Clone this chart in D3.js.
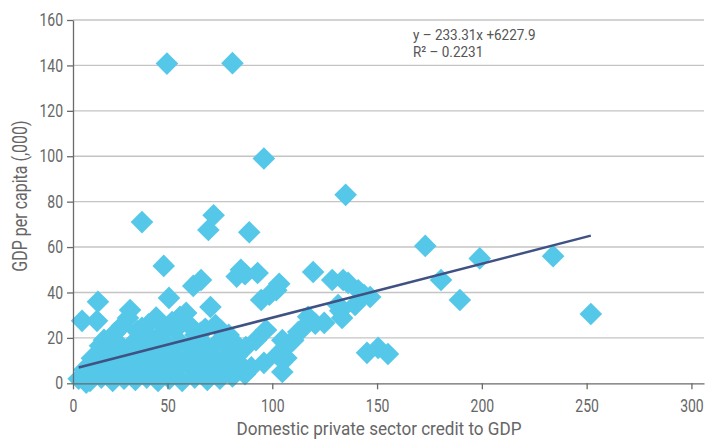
<!DOCTYPE html>
<html>
<head>
<meta charset="utf-8">
<script src="https://cdn.jsdelivr.net/npm/d3@7"></script>
<style>
  body { margin: 0; background: #fff; }
  svg text { font-family: "Roboto", "Liberation Sans", sans-serif; }
</style>
</head>
<body>
<svg width="706" height="439"></svg>
<script>
// credit to GDP (%) / GDP per capita (thousands)
const creditToGdp = [
  49.7, 81, 96, 135, 36.5, 72, 69.5, 89, 173, 199, 234, 180.5, 189.5, 252,
  48, 50.7, 66, 62.3, 70.5, 85, 87, 83, 93, 98.6, 94.7, 101.9, 103.3,
  119.5, 128.6, 133.8, 136.2, 141, 143.8, 146.7, 139.5, 132.4, 131.4, 133.3,
  117.1, 124.8, 120.5, 113.8, 112.4, 110, 107.6, 104.8, 102.4, 104.8,
  145.2, 150.5, 155.2, 106.7, 13.2, 4.8, 12.7, 16.4, 14.3, 30.2, 29.1, 25.9,
  36.5, 40.7, 49.2, 52.2, 56, 58.9, 53.6, 63.3, 65.7, 72.9, 75.3, 79.2, 83,
  87.4, 92.2, 97,
  3, 7, 9, 15, 21, 27, 33, 39, 45, 51, 57, 63, 69, 75, 81, 87,
  6, 12, 18, 24, 30, 36, 42, 48, 54, 60, 66, 72, 78, 84, 90, 96,
  10, 17, 23, 29, 35, 41, 47, 53, 59, 65, 71, 77, 83,
  20, 26, 32, 38, 44, 50, 56, 62, 68, 74, 80,
  22, 34, 46, 60, 68, 44, 40
];
const gdpPerCapita = [
  140.8, 141, 99, 83, 71, 74, 67.5, 66.5, 60.5, 55, 56, 45.5, 36.7, 30.5,
  51.7, 37.6, 45.5, 42.9, 33.6, 50, 48, 47, 48.6, 39, 36.7, 41, 43.8,
  49, 45.5, 45.5, 44.2, 41, 38.9, 38, 34.5, 31.9, 34.5, 28.8,
  29.3, 26.6, 26.2, 23.5, 22.6, 19, 16.9, 19, 12.5, 5,
  13.4, 15.6, 12.9, 11.1, 35.9, 27.5, 27.5, 19.1, 16.5, 32.3, 28.8, 25.3,
  24.4, 20, 24.4, 27, 29.3, 31, 23.5, 21.3, 22.2, 25.7, 23.5, 21.3, 16.9,
  16, 19, 23.5,
  2, 0.3, 1, 2.5, 1, 2, 1.5, 2.5, 1, 2, 1, 2.5, 1.5, 2, 3, 4,
  6, 7, 8, 6.5, 7.5, 6, 8, 7, 6.5, 8, 7, 6, 8, 9, 7, 9,
  11, 12, 13, 11.5, 12.5, 11, 13, 12, 11, 13, 12, 11, 12,
  17, 16, 18, 17.5, 16, 17, 18, 16.5, 17, 18, 16,
  22, 23, 21, 26, 24, 29, 26
];
const xTicks = [0, 50, 100, 150, 200, 250, 300];
const yTicks = [0, 20, 40, 60, 80, 100, 120, 140, 160];
const trendSlope = 0.23331, trendIntercept = 6.2279;
const equationLines = ["y \u2013 233.31x +6227.9", "R\u00b2 \u2013 0.2231"];

const points = creditToGdp.map((c, i) => ({x: c, y: gdpPerCapita[i]}));

const svg = d3.select("svg");
const squeeze = "scale(0.8,1)";   // stand-in for the condensed face

var x = d3.scaleLinear().domain([0, 50, 306]).range([73, 167.5, 704]);
var y = d3.scaleLinear().domain([0, 160]).range([383.3, 20]);

// grid
svg.append("g")
  .selectAll("line")
  .data(yTicks.filter(d => d > 0))
  .enter().append("line")
    .attr("x1", x(0)).attr("x2", 704)
    .attr("y1", d => y(d)).attr("y2", d => y(d))
    .attr("stroke", "#c4c4c4")
    .attr("stroke-width", 1.4);

// points
svg.append("g")
  .selectAll("path")
  .data(points)
  .enter().append("path")
    .attr("d", d3.symbol(d3.symbolSquare, 256))
    .attr("transform", d => "translate(" + x(d.x) + "," + y(d.y) + ") rotate(45)")
    .attr("fill", "#55c8e9");

// axes
const xAxis = svg.append("g")
  .attr("transform", "translate(0," + y(0) + ")")
  .call(d3.axisBottom(x).tickValues(xTicks).tickSize(6).tickPadding(10).tickSizeOuter(0));
const yAxis = svg.append("g")
  .attr("transform", "translate(" + x(0) + ",0)")
  .call(d3.axisLeft(y).tickValues(yTicks).tickSize(6).tickPadding(6.5).tickSizeOuter(0));

[xAxis, yAxis].forEach(a => {
  a.select(".domain").attr("stroke", "#6a6a6a").attr("stroke-width", 1.3);
  a.selectAll(".tick line").attr("stroke", "#6a6a6a").attr("stroke-width", 1.3);
  a.selectAll(".tick text").attr("fill", "#666").style("font-size", "17.5px")
    .attr("transform", squeeze);
});

// trend line
const xMin = d3.min(creditToGdp), xMax = d3.max(creditToGdp);
svg.append("line")
  .attr("x1", x(xMin)).attr("y1", y(trendSlope * xMin + trendIntercept))
  .attr("x2", x(xMax)).attr("y2", y(trendSlope * xMax + trendIntercept))
  .attr("stroke", "#3f5283")
  .attr("stroke-width", 2.5);

// equation
svg.append("g")
  .attr("transform", "translate(413,40) scale(0.9,1)")
  .append("text")
  .attr("fill", "#555").style("font-size", "15px")
  .selectAll("tspan")
  .data(equationLines)
  .enter().append("tspan")
    .attr("x", 0)
    .attr("dy", (d, i) => i ? 17 : 0)
    .text(d => d);

// axis titles
svg.append("g")
  .attr("transform", "translate(379,435) scale(0.9,1)")
  .append("text")
  .attr("text-anchor", "middle")
  .attr("fill", "#666").style("font-size", "19px")
  .text("Domestic private sector credit to GDP");

svg.append("g")
  .attr("transform", "translate(27,196) rotate(-90) " + squeeze)
  .append("text")
  .attr("text-anchor", "middle")
  .attr("fill", "#666").style("font-size", "20px")
  .text("GDP per capita (,000)");
</script>
</body>
</html>
